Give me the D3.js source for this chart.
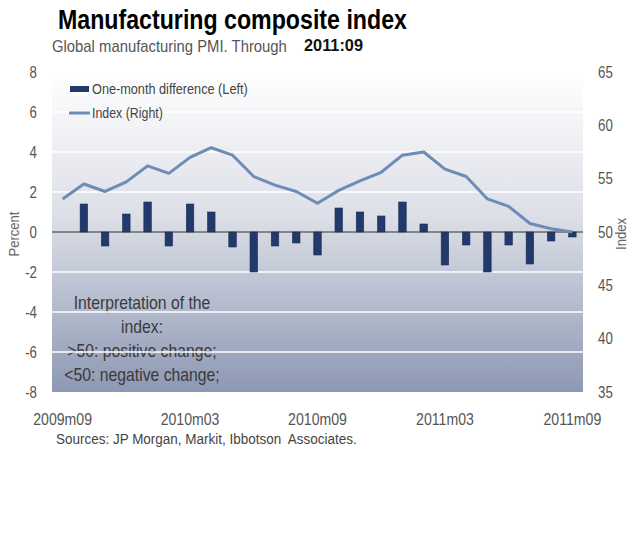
<!DOCTYPE html>
<html>
<head>
<meta charset="utf-8">
<script src="https://cdn.jsdelivr.net/npm/d3@7"></script>
<style>
  html, body {margin: 0; padding: 0; background: #fff;}
  svg {display: block; font-family: "Liberation Sans", Arial, sans-serif;}
</style>
</head>
<body>
<svg id="chart" width="640" height="549"></svg>
<script>
	'use strict';

	// months shown on the category axis
	var months = [
		'2009m09', '2009m10', '2009m11', '2009m12', '2010m01', '2010m02', '2010m03',
		'2010m04', '2010m05', '2010m06', '2010m07', '2010m08', '2010m09',
		'2010m10', '2010m11', '2010m12', '2011m01', '2011m02', '2011m03',
		'2011m04', '2011m05', '2011m06', '2011m07', '2011m08', '2011m09'];

	// global manufacturing PMI (right axis)
	var indexValues = [
		53.1, 54.5, 53.8, 54.7, 56.2, 55.5, 57.0, 57.9, 57.2, 55.2, 54.4, 53.8, 52.7,
		53.9, 54.8, 55.6, 57.2, 57.5, 55.9, 55.2, 53.1, 52.4, 50.8, 50.3, 50.0];

	// one-month difference (left axis), none for the first month
	var diffValues = [
		null, 1.4, -0.7, 0.9, 1.5, -0.7, 1.4, 1.0, -0.75, -2.0, -0.7, -0.55, -1.15,
		1.2, 1.0, 0.8, 1.5, 0.4, -1.65, -0.65, -2.0, -0.65, -1.6, -0.45, -0.25];

	var leftTicks = [-8, -6, -4, -2, 0, 2, 4, 6, 8];
	var rightTicks = [35, 40, 45, 50, 55, 60, 65];
	var xTickLabels = ['2009m09', '2010m03', '2010m09', '2011m03', '2011m09'];

	var noteLines = ['Interpretation of the', 'index:', '>50: positive change;', '<50: negative change;'];

	var plot = {left: 52, right: 583, top: 72, bottom: 392};
	var NARROW = 0.83; // squeeze to look like a condensed face

	var svg = d3.select('#chart');

	// condense text horizontally with a transform (no narrow font installed).
	// opts.width: target width in px, else opts.factor / NARROW.
	function squeeze(sel, opts) {
		opts = opts || {};
		sel.each(function() {
			var t = d3.select(this);
			var f = opts.width ? opts.width / this.getComputedTextLength() : (opts.factor || NARROW);
			var x0 = +t.attr('x') || 0, y0 = +t.attr('y') || 0;
			var base = t.attr('transform') || '';
			t.attr('x', 0).attr('y', 0)
				.attr('transform', base + ' translate(' + x0 + ',' + y0 + ') scale(' + f + ',1)');});
		return sel;}

	var x = d3.scaleBand().domain(months).range([plot.left, plot.right]);
	var yL = d3.scaleLinear().domain([-8, 8]).range([plot.bottom, plot.top]);
	var yR = d3.scaleLinear().domain([35, 65]).range([plot.bottom, plot.top]);
	function cx(m) {return x(m) + x.bandwidth() / 2;}

	// background gradient
	var defs = svg.append('defs');
	var grad = defs.append('linearGradient')
		.attr('id', 'bg').attr('x1', 0).attr('y1', 0).attr('x2', 0).attr('y2', 1);
	grad.append('stop').attr('offset', '0%').attr('stop-color', '#ffffff');
	grad.append('stop').attr('offset', '45%').attr('stop-color', '#dcdfe7');
	grad.append('stop').attr('offset', '100%').attr('stop-color', '#8d98b3');

	svg.append('rect')
		.attr('x', plot.left).attr('y', plot.top)
		.attr('width', plot.right - plot.left).attr('height', plot.bottom - plot.top)
		.attr('fill', 'url(#bg)');

	// note text sits under the gridlines
	squeeze(svg.append('g').selectAll('text')
		.data(noteLines)
		.join('text')
		.attr('x', 142)
		.attr('y', function(d, i) {return 309 + i * 24;})
		.attr('text-anchor', 'middle')
		.attr('font-size', 19)
		.attr('fill', '#3a3a3a')
		.text(function(d) {return d;}));

	// gridlines
	svg.append('g').selectAll('line')
		.data(leftTicks.filter(function(t) {return t !== 0 && t !== 8 && t !== -8;}))
		.join('line')
		.attr('x1', plot.left).attr('x2', plot.right)
		.attr('y1', function(d) {return yL(d);}).attr('y2', function(d) {return yL(d);})
		.attr('stroke', '#ffffff').attr('stroke-width', 1.5);

	// bars
	var barW = 7.5;
	svg.append('g').selectAll('rect')
		.data(months.map(function(m, i) {return {m: m, v: diffValues[i]};})
			.filter(function(d) {return d.v !== null;}))
		.join('rect')
		.attr('x', function(d) {return cx(d.m) - barW / 2;})
		.attr('width', barW)
		.attr('y', function(d) {return yL(Math.max(0, d.v));})
		.attr('height', function(d) {return Math.abs(yL(d.v) - yL(0));})
		.attr('fill', '#213a6b')
		.attr('stroke', '#1a2f58').attr('stroke-width', 0.6);

	// zero line
	svg.append('line')
		.attr('x1', plot.left).attr('x2', plot.right)
		.attr('y1', yL(0)).attr('y2', yL(0))
		.attr('stroke', '#333').attr('stroke-width', 1);

	// index line
	var line = d3.line()
		.x(function(d) {return cx(d.m);})
		.y(function(d) {return yR(d.v);});
	svg.append('path')
		.datum(months.map(function(m, i) {return {m: m, v: indexValues[i]};}))
		.attr('d', line)
		.attr('fill', 'none')
		.attr('stroke', '#6d8cb6')
		.attr('stroke-width', 3)
		.attr('stroke-linejoin', 'round');

	// axes
	var leftAxis = svg.append('g')
		.attr('transform', 'translate(37,0)')
		.call(d3.axisLeft(yL).tickValues(leftTicks).tickSize(0).tickPadding(0)
			.tickFormat(function(d) {return d < 0 ? '-' + Math.abs(d) : String(d);}));
	var rightAxis = svg.append('g')
		.attr('transform', 'translate(598,0)')
		.call(d3.axisRight(yR).tickValues(rightTicks).tickSize(0).tickPadding(0));
	var bottomAxis = svg.append('g')
		.attr('transform', 'translate(0,408)')
		.call(d3.axisBottom(x).tickValues(xTickLabels).tickSize(0).tickPadding(0));

	[leftAxis, rightAxis, bottomAxis].forEach(function(a) {
		a.attr('font-family', null).attr('font-size', null);
		a.select('.domain').remove();
		a.selectAll('text').attr('fill', '#555');});
	squeeze(leftAxis.selectAll('text').attr('font-size', 16));
	squeeze(rightAxis.selectAll('text').attr('font-size', 16));
	squeeze(bottomAxis.selectAll('text').attr('font-size', 17).attr('dy', '1em'));

	// axis titles
	squeeze(svg.append('text')
		.attr('transform', 'translate(19,234) rotate(-90)')
		.attr('text-anchor', 'middle')
		.attr('font-size', 15)
		.attr('fill', '#666')
		.text('Percent'), {factor: 0.87});
	squeeze(svg.append('text')
		.attr('transform', 'translate(626,234) rotate(-90)')
		.attr('text-anchor', 'middle')
		.attr('font-size', 15)
		.attr('fill', '#666')
		.text('Index'), {factor: 0.87});

	// title block
	squeeze(svg.append('text')
		.attr('x', 58).attr('y', 29)
		.attr('font-size', 27).attr('font-weight', 'bold')
		.attr('fill', '#000')
		.text('Manufacturing composite index'), {width: 349});
	squeeze(svg.append('text')
		.attr('x', 52).attr('y', 52)
		.attr('font-size', 17)
		.attr('fill', '#555')
		.text('Global manufacturing PMI. Through'), {width: 235});
	squeeze(svg.append('text')
		.attr('x', 304).attr('y', 51)
		.attr('font-size', 17).attr('font-weight', 'bold')
		.attr('fill', '#111')
		.text('2011:09'), {width: 59});

	// legend
	var legend = svg.append('g');
	legend.append('rect')
		.attr('x', 70).attr('y', 86).attr('width', 19).attr('height', 6)
		.attr('fill', '#213a6b');
	squeeze(legend.append('text')
		.attr('x', 92).attr('y', 94)
		.attr('font-size', 15.5).attr('fill', '#444')
		.text('One-month difference (Left)'), {width: 156});
	legend.append('line')
		.attr('x1', 69).attr('x2', 90).attr('y1', 113).attr('y2', 113)
		.attr('stroke', '#6d8cb6').attr('stroke-width', 3);
	squeeze(legend.append('text')
		.attr('x', 92).attr('y', 118)
		.attr('font-size', 15.5).attr('fill', '#444')
		.text('Index (Right)'), {width: 71});

	// source
	squeeze(svg.append('text')
		.attr('x', 56).attr('y', 444)
		.attr('font-size', 15).attr('fill', '#444')
		.attr('xml:space', 'preserve')
		.text('Sources: JP Morgan, Markit, Ibbotson  Associates.'), {width: 301});
</script>
</body>
</html>
